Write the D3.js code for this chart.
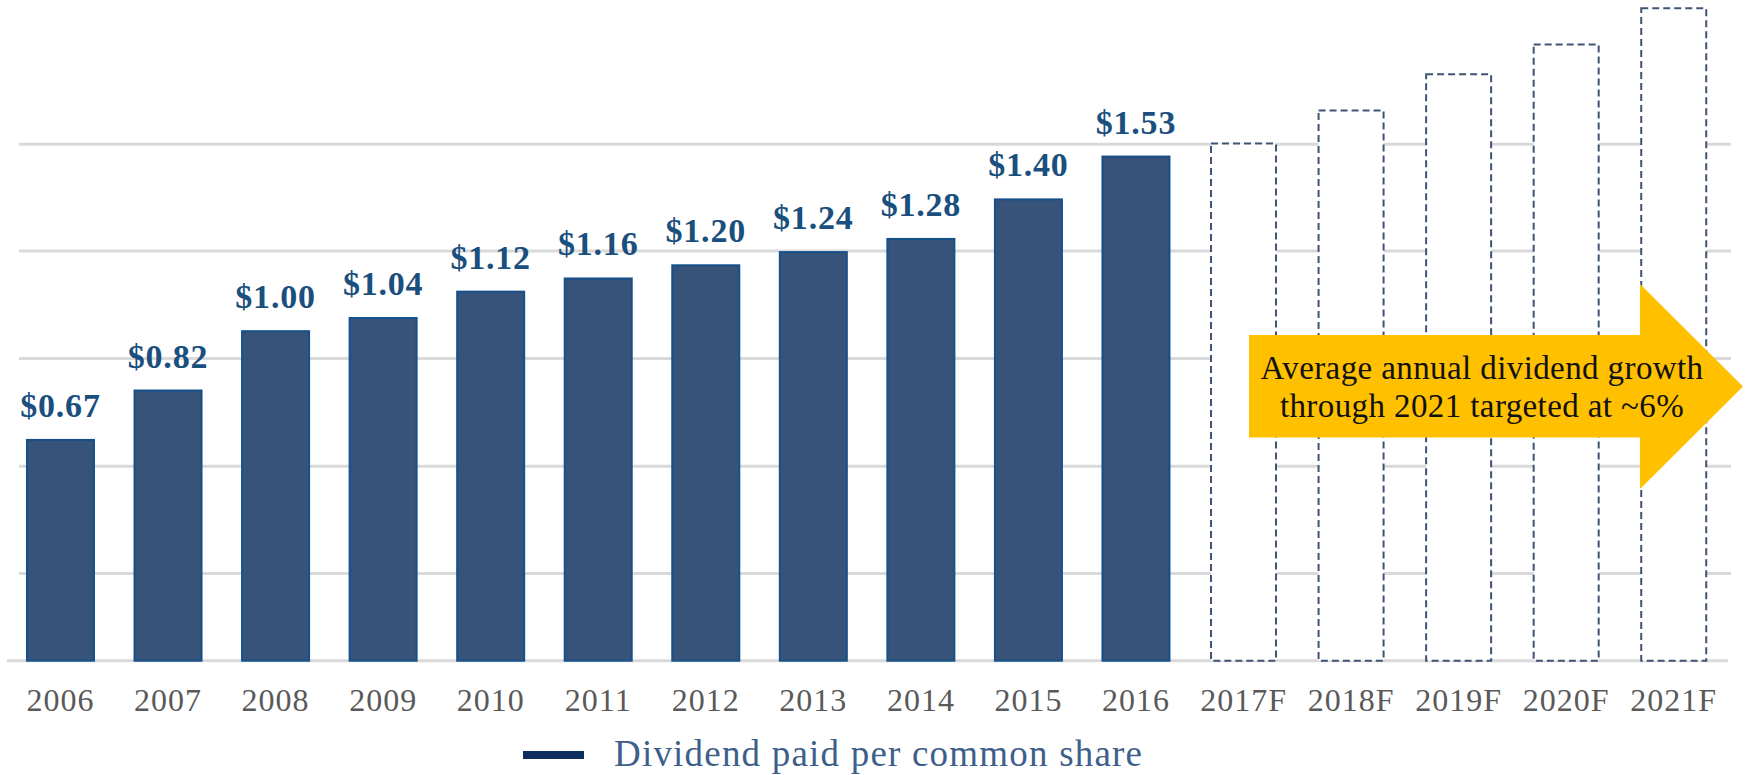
<!DOCTYPE html>
<html>
<head>
<meta charset="utf-8">
<script src="https://cdn.jsdelivr.net/npm/d3@7"></script>
<style>
  body { margin: 0; background: #fff; }
  svg { display: block; }
</style>
</head>
<body>
<svg></svg>
<script>
// values
var years = ['2006', '2007', '2008', '2009', '2010', '2011', '2012', '2013', '2014', '2015', '2016'];
var dividends = [0.67, 0.82, 1.00, 1.04, 1.12, 1.16, 1.20, 1.24, 1.28, 1.40, 1.53];
var labels = ['$0.67', '$0.82', '$1.00', '$1.04', '$1.12', '$1.16', '$1.20', '$1.24', '$1.28', '$1.40', '$1.53'];
var forecastYears = ['2017F', '2018F', '2019F', '2020F', '2021F'];
var forecastValues = [1.57, 1.67, 1.78, 1.87, 1.98];
var gridValues = [0.266, 0.592, 0.919, 1.245, 1.569];
var legendLabel = 'Dividend paid per common share';
var arrowLines = ['Average annual dividend growth', 'through 2021 targeted at ~6%'];

var svgWidth = 1747, svgHeight = 775;

var svg = d3.select('svg')
.attr('width', svgWidth)
.attr('height', svgHeight);

var xScale = d3.scaleBand()
.domain(years.concat(forecastYears))
.range([6.7, 1727.5])
.paddingInner(0.377)
.paddingOuter(0.1885);

var yScale = d3.scaleLinear()
.domain([0, 2])
.range([660.7, 1.7]);

// gridlines
var grid = d3.axisLeft(yScale)
.tickValues(gridValues)
.tickSize(-1712)
.tickFormat('');

svg.append('g')
.attr('transform', 'translate(19, 0)')
.call(grid)
.call(function (g) {
    g.select('.domain').remove();
    g.selectAll('line').attr('stroke', '#d9d9d9').attr('stroke-width', 3);
});

// baseline
svg.append('line')
.attr('x1', 7).attr('x2', 1728)
.attr('y1', yScale(0)).attr('y2', yScale(0))
.attr('stroke', '#d9d9d9')
.attr('stroke-width', 3);

// actual bars
svg.selectAll('rect.actual')
.data(dividends)
.enter()
.append('rect')
.attr('class', 'actual')
.attr('x', function (d, i) { return xScale(years[i]); })
.attr('y', function (d) { return yScale(d); })
.attr('width', xScale.bandwidth())
.attr('height', function (d) { return yScale(0) - yScale(d); })
.attr('fill', '#385379')
.attr('stroke', '#15508a')
.attr('stroke-width', 2);

// forecast bars (dashed outlines)
svg.selectAll('rect.forecast')
.data(forecastValues)
.enter()
.append('rect')
.attr('class', 'forecast')
.attr('x', function (d, i) { return xScale(forecastYears[i]) + 1; })
.attr('y', function (d) { return yScale(d); })
.attr('width', xScale.bandwidth() - 2)
.attr('height', function (d) { return yScale(0) - yScale(d); })
.attr('fill', '#fff')
.attr('stroke', '#3f5475')
.attr('stroke-width', 2)
.attr('stroke-dasharray', '7,4');

// value labels
svg.selectAll('text.value')
.data(dividends)
.enter()
.append('text')
.attr('class', 'value')
.attr('x', function (d, i) { return xScale(years[i]) + xScale.bandwidth() / 2; })
.attr('y', function (d) { return yScale(d) - 23; })
.attr('text-anchor', 'middle')
.attr('font-family', '"Liberation Serif", serif')
.attr('font-weight', 'bold')
.attr('font-size', 34)
.attr('letter-spacing', 0.8)
.attr('fill', '#1a4f7e')
.text(function (d, i) { return labels[i]; });

// x axis labels
var x_axis = d3.axisBottom(xScale)
.tickSize(0)
.tickPadding(28);

svg.append('g')
.attr('transform', 'translate(0, ' + yScale(0) + ')')
.call(x_axis)
.call(function (g) {
    g.select('.domain').remove();
    g.selectAll('text')
    .attr('font-family', '"Liberation Serif", serif')
    .attr('font-size', 32)
    .attr('letter-spacing', 1)
    .attr('fill', '#595959');
});

// yellow arrow annotation
var arrow = [[1249, 335], [1640, 335], [1640, 284], [1743, 386.5], [1640, 489], [1640, 437.5], [1249, 437.5]];
svg.append('path')
.attr('d', d3.line()(arrow) + 'Z')
.attr('fill', '#ffc000');

svg.selectAll('text.note')
.data(arrowLines)
.enter()
.append('text')
.attr('class', 'note')
.attr('x', 1482)
.attr('y', function (d, i) { return 379.3 + i * 37.4; })
.attr('text-anchor', 'middle')
.attr('font-family', '"Liberation Serif", serif')
.attr('font-size', 33)
.attr('letter-spacing', 0.4)
.attr('fill', '#111')
.text(function (d) { return d; });

// legend
svg.append('rect')
.attr('x', 523).attr('y', 751)
.attr('width', 61).attr('height', 8)
.attr('fill', '#0e2d5f');

svg.append('text')
.attr('x', 614)
.attr('y', 765.7)
.attr('font-family', '"Liberation Serif", serif')
.attr('font-size', 37)
.attr('letter-spacing', 1.2)
.attr('fill', '#3e5f8a')
.text(legendLabel);
</script>
</body>
</html>
